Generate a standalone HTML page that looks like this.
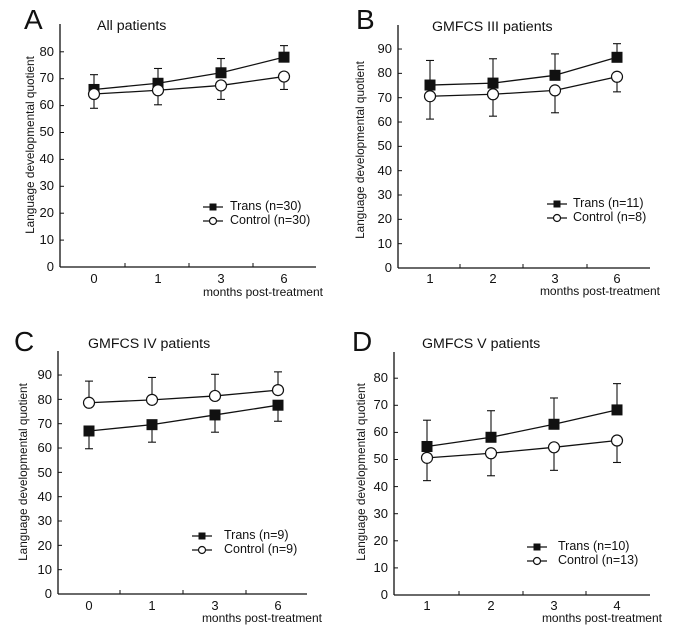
<!DOCTYPE html>
<html><head><meta charset="utf-8"><style>
body{margin:0;background:#fff}
svg text{font-family:"Liberation Sans",Arial,sans-serif;fill:#111}
.t{font-size:13px}.m{font-size:12px}.tl{font-size:12.5px}.ti{font-size:14.2px}.L{font-size:28px}.yl{font-size:11.8px}
</style></head><body>
<svg id="s" width="685" height="632" xmlns="http://www.w3.org/2000/svg">
<g id="g"></g>
<!-- Panel A -->
<text class="L" x="24" y="29">A</text>
<text class="ti" x="97" y="30">All patients</text>
<text class="yl" transform="translate(34,145) rotate(-90)" text-anchor="middle">Language developmental quotient</text>
<g class="t" text-anchor="end"><text x="54" y="271">0</text><text x="54" y="244">10</text><text x="54" y="217">20</text><text x="54" y="190">30</text><text x="54" y="163">40</text><text x="54" y="136">50</text><text x="54" y="109">60</text><text x="54" y="82">70</text><text x="54" y="56">80</text></g>
<g class="t" text-anchor="middle"><text x="94" y="283">0</text><text x="158" y="283">1</text><text x="221" y="283">3</text><text x="284" y="283">6</text></g>
<text class="m" x="323" y="296" text-anchor="end">months post-treatment</text>
<text class="tl" x="230" y="210">Trans (n=30)</text><text class="tl" x="230" y="224">Control (n=30)</text>
<!-- Panel B -->
<text class="L" x="356" y="29">B</text>
<text class="ti" x="432" y="31">GMFCS III patients</text>
<text class="yl" transform="translate(364,150) rotate(-90)" text-anchor="middle">Language developmental quotient</text>
<g class="t" text-anchor="end"><text x="392" y="272">0</text><text x="392" y="248">10</text><text x="392" y="223">20</text><text x="392" y="199">30</text><text x="392" y="175">40</text><text x="392" y="150">50</text><text x="392" y="126">60</text><text x="392" y="102">70</text><text x="392" y="77">80</text><text x="392" y="53">90</text></g>
<g class="t" text-anchor="middle"><text x="430" y="283">1</text><text x="493" y="283">2</text><text x="555" y="283">3</text><text x="617" y="283">6</text></g>
<text class="m" x="660" y="295" text-anchor="end">months post-treatment</text>
<text class="tl" x="573" y="207">Trans (n=11)</text><text class="tl" x="573" y="221">Control (n=8)</text>
<!-- Panel C -->
<text class="L" x="14" y="351">C</text>
<text class="ti" x="88" y="348">GMFCS IV patients</text>
<text class="yl" transform="translate(27,472) rotate(-90)" text-anchor="middle">Language developmental quotient</text>
<g class="t" text-anchor="end"><text x="52" y="598">0</text><text x="52" y="574">10</text><text x="52" y="550">20</text><text x="52" y="525">30</text><text x="52" y="501">40</text><text x="52" y="477">50</text><text x="52" y="452">60</text><text x="52" y="428">70</text><text x="52" y="404">80</text><text x="52" y="379">90</text></g>
<g class="t" text-anchor="middle"><text x="89" y="610">0</text><text x="152" y="610">1</text><text x="215" y="610">3</text><text x="278" y="610">6</text></g>
<text class="m" x="322" y="622" text-anchor="end">months post-treatment</text>
<text class="tl" x="224" y="539">Trans (n=9)</text><text class="tl" x="224" y="553">Control (n=9)</text>
<!-- Panel D -->
<text class="L" x="352" y="351">D</text>
<text class="ti" x="422" y="348">GMFCS V patients</text>
<text class="yl" transform="translate(365,472) rotate(-90)" text-anchor="middle">Language developmental quotient</text>
<g class="t" text-anchor="end"><text x="388" y="599">0</text><text x="388" y="572">10</text><text x="388" y="545">20</text><text x="388" y="518">30</text><text x="388" y="491">40</text><text x="388" y="463">50</text><text x="388" y="436">60</text><text x="388" y="409">70</text><text x="388" y="382">80</text></g>
<g class="t" text-anchor="middle"><text x="427" y="610">1</text><text x="491" y="610">2</text><text x="554" y="610">3</text><text x="617" y="610">4</text></g>
<text class="m" x="662" y="622" text-anchor="end">months post-treatment</text>
<text class="tl" x="558" y="550">Trans (n=10)</text><text class="tl" x="558" y="564">Control (n=13)</text>
</svg>
<script>
var g=document.getElementById('g'),h='';
function ln(a,b,c,d,w){h+='<line x1="'+a+'" y1="'+b+'" x2="'+c+'" y2="'+d+'" stroke="#111" stroke-width="'+(w||1.3)+'"/>';}
function sq(x,y,s){h+='<rect x="'+(x-s/2)+'" y="'+(y-s/2)+'" width="'+s+'" height="'+s+'" fill="#111"/>';}
function ci(x,y,r){h+='<circle cx="'+x+'" cy="'+y+'" r="'+r+'" fill="#fff" stroke="#111" stroke-width="1.2"/>';}
function panel(P){
 var Y=function(v){return P.y0-v*P.k;};
 ln(P.ax,P.top,P.ax,P.y0);ln(P.ax,P.y0,P.right,P.y0);
 for(var v=0;v<=P.max;v+=10)ln(P.ax,Y(v),P.ax+4,Y(v),1);
 P.minor.forEach(function(x){ln(x,P.y0,x,P.y0-4,1);});
 [P.A,P.B].forEach(function(S){
  for(var i=0;i<3;i++)ln(P.cx[i],Y(S.m[i]),P.cx[i+1],Y(S.m[i+1]));
  for(i=0;i<4;i++){ln(P.cx[i],Y(S.m[i]),P.cx[i],Y(S.e[i]),1.1);ln(P.cx[i]-4,Y(S.e[i]),P.cx[i]+4,Y(S.e[i]),1.1);}
 });
 for(var i=0;i<4;i++){sq(P.cx[i],Y(P.A.m[i]),11);ci(P.cx[i],Y(P.B.m[i]),5.5);}
 ln(P.lx,P.ly,P.lx+20,P.ly);sq(P.lx+10,P.ly,7);
 ln(P.lx,P.ly+14,P.lx+20,P.ly+14);ci(P.lx+10,P.ly+14,3.5);
}
panel({ax:60,top:24,y0:267,k:2.69,max:80,right:316,cx:[94,158,221,284],minor:[125,189,253],
 A:{m:[66,68.3,72.2,78],e:[71.5,73.8,77.5,82.3]},B:{m:[64.3,65.7,67.5,70.8],e:[59,60.3,62.3,66]},lx:203,ly:207});
panel({ax:398,top:25,y0:268,k:2.433,max:90,right:650,cx:[430,493,555,617],minor:[460,523,587],
 A:{m:[75.2,76,79.2,86.6],e:[85.3,86,88,92.2]},B:{m:[70.6,71.4,73,78.6],e:[61.2,62.4,63.8,72.4]},lx:547,ly:204});
panel({ax:58,top:351,y0:594,k:2.433,max:90,right:307,cx:[89,152,215,278],minor:[120,183,246],
 A:{m:[67,69.6,73.6,77.6],e:[59.7,62.4,66.5,71]},B:{m:[78.6,79.8,81.4,83.8],e:[87.5,89,90.3,91.3]},lx:192,ly:536});
panel({ax:394,top:352,y0:595,k:2.71,max:80,right:650,cx:[427,491,554,617],minor:[459,523,586],
 A:{m:[54.8,58.2,63,68.3],e:[64.5,68,72.7,78]},B:{m:[50.6,52.3,54.5,57],e:[42.2,44,46,48.9]},lx:527,ly:547});
g.innerHTML=h;
</script>
</body></html>
